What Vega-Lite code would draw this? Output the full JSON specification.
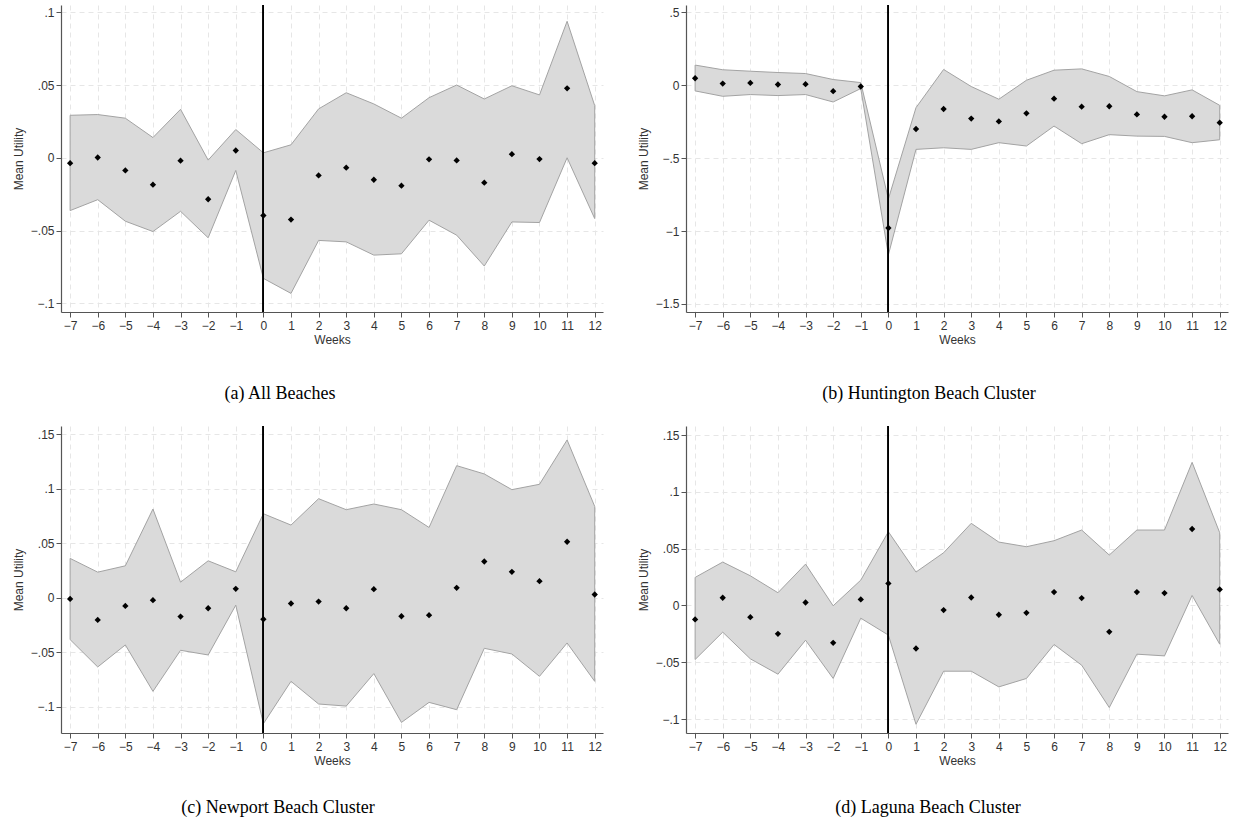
{
  "$schema": "https://vega.github.io/schema/vega-lite/v6.json",
  "background": "white",
  "padding": {"left": 12, "top": 4, "right": 5, "bottom": 5},
  "config": {
    "view": {"stroke": null},
    "font": "Liberation Sans",
    "axis": {
      "labelFont": "Liberation Sans",
      "labelFontSize": 12,
      "labelColor": "#333333",
      "titleFont": "Liberation Sans",
      "titleFontSize": 12,
      "titleFontWeight": "normal",
      "titleColor": "#333333",
      "domainColor": "#555555",
      "domainWidth": 1.2,
      "tickColor": "#555555",
      "tickSize": 5,
      "grid": true,
      "gridColor": "#e6e6e6",
      "gridDash": [5, 4],
      "gridWidth": 1
    },
    "title": {"font": "Liberation Serif", "fontSize": 18, "fontWeight": "normal", "color": "#000000", "orient": "bottom"}
  },
  "datasets": {
    "a": [
      {"w": -7, "m": -0.0037, "lo": -0.0363, "hi": 0.0292},
      {"w": -6, "m": 0.0002, "lo": -0.0288, "hi": 0.0297},
      {"w": -5, "m": -0.0087, "lo": -0.0436, "hi": 0.0272},
      {"w": -4, "m": -0.0185, "lo": -0.0507, "hi": 0.0139},
      {"w": -3, "m": -0.002, "lo": -0.0368, "hi": 0.0333},
      {"w": -2, "m": -0.0285, "lo": -0.055, "hi": -0.0016},
      {"w": -1, "m": 0.005, "lo": -0.0087, "hi": 0.0194},
      {"w": 0, "m": -0.0397, "lo": -0.0829, "hi": 0.0034},
      {"w": 1, "m": -0.0425, "lo": -0.0932, "hi": 0.0089},
      {"w": 2, "m": -0.0121, "lo": -0.0568, "hi": 0.0336},
      {"w": 3, "m": -0.0068, "lo": -0.0578, "hi": 0.0447},
      {"w": 4, "m": -0.0151, "lo": -0.0669, "hi": 0.037},
      {"w": 5, "m": -0.0192, "lo": -0.066, "hi": 0.0272},
      {"w": 6, "m": -0.0011, "lo": -0.0429, "hi": 0.0413},
      {"w": 7, "m": -0.0018, "lo": -0.0532, "hi": 0.05},
      {"w": 8, "m": -0.0171, "lo": -0.0744, "hi": 0.0404},
      {"w": 9, "m": 0.0025, "lo": -0.0441, "hi": 0.0495},
      {"w": 10, "m": -0.0009, "lo": -0.0445, "hi": 0.0432},
      {"w": 11, "m": 0.0477, "lo": 0.0, "hi": 0.0938},
      {"w": 12, "m": -0.0037, "lo": -0.0418, "hi": 0.0358}
    ],
    "b": [
      {"w": -7, "m": 0.048, "lo": -0.039, "hi": 0.138},
      {"w": -6, "m": 0.011, "lo": -0.076, "hi": 0.106},
      {"w": -5, "m": 0.016, "lo": -0.064, "hi": 0.096},
      {"w": -4, "m": 0.005, "lo": -0.071, "hi": 0.087},
      {"w": -3, "m": 0.007, "lo": -0.064, "hi": 0.08},
      {"w": -2, "m": -0.041, "lo": -0.115, "hi": 0.039},
      {"w": -1, "m": -0.009, "lo": -0.023, "hi": 0.018},
      {"w": 0, "m": -0.979, "lo": -1.163, "hi": -0.78},
      {"w": 1, "m": -0.3, "lo": -0.44, "hi": -0.154},
      {"w": 2, "m": -0.163, "lo": -0.429, "hi": 0.108},
      {"w": 3, "m": -0.229, "lo": -0.44, "hi": -0.009},
      {"w": 4, "m": -0.248, "lo": -0.394, "hi": -0.096},
      {"w": 5, "m": -0.193, "lo": -0.417, "hi": 0.034},
      {"w": 6, "m": -0.092, "lo": -0.28, "hi": 0.103},
      {"w": 7, "m": -0.147, "lo": -0.401, "hi": 0.112},
      {"w": 8, "m": -0.144, "lo": -0.339, "hi": 0.06},
      {"w": 9, "m": -0.2, "lo": -0.349, "hi": -0.044},
      {"w": 10, "m": -0.216, "lo": -0.351, "hi": -0.073},
      {"w": 11, "m": -0.213, "lo": -0.394, "hi": -0.032},
      {"w": 12, "m": -0.257, "lo": -0.374, "hi": -0.138}
    ],
    "c": [
      {"w": -7, "m": -0.001, "lo": -0.0383, "hi": 0.0362},
      {"w": -6, "m": -0.0202, "lo": -0.0634, "hi": 0.0236},
      {"w": -5, "m": -0.0074, "lo": -0.0432, "hi": 0.0294},
      {"w": -4, "m": -0.0021, "lo": -0.0858, "hi": 0.0815},
      {"w": -3, "m": -0.0172, "lo": -0.0481, "hi": 0.0144},
      {"w": -2, "m": -0.0095, "lo": -0.0524, "hi": 0.034},
      {"w": -1, "m": 0.0083, "lo": -0.0067, "hi": 0.0239},
      {"w": 0, "m": -0.0196, "lo": -0.1155, "hi": 0.0772},
      {"w": 1, "m": -0.0052, "lo": -0.0766, "hi": 0.0668},
      {"w": 2, "m": -0.0034, "lo": -0.0974, "hi": 0.091},
      {"w": 3, "m": -0.0095, "lo": -0.0993, "hi": 0.0809},
      {"w": 4, "m": 0.008, "lo": -0.0695, "hi": 0.0861},
      {"w": 5, "m": -0.0169, "lo": -0.1143, "hi": 0.0809},
      {"w": 6, "m": -0.0159, "lo": -0.0959, "hi": 0.0646},
      {"w": 7, "m": 0.0092, "lo": -0.1026, "hi": 0.1213},
      {"w": 8, "m": 0.0334, "lo": -0.0463, "hi": 0.1137},
      {"w": 9, "m": 0.0239, "lo": -0.0515, "hi": 0.0993},
      {"w": 10, "m": 0.0153, "lo": -0.072, "hi": 0.1042},
      {"w": 11, "m": 0.0515, "lo": -0.0414, "hi": 0.1449},
      {"w": 12, "m": 0.0031, "lo": -0.0766, "hi": 0.0839}
    ],
    "d": [
      {"w": -7, "m": -0.0123, "lo": -0.0476, "hi": 0.0247},
      {"w": -6, "m": 0.0068, "lo": -0.0235, "hi": 0.0382},
      {"w": -5, "m": -0.0103, "lo": -0.047, "hi": 0.0261},
      {"w": -4, "m": -0.025, "lo": -0.0605, "hi": 0.0112},
      {"w": -3, "m": 0.0026, "lo": -0.0306, "hi": 0.0364},
      {"w": -2, "m": -0.0329, "lo": -0.0643, "hi": -0.0003},
      {"w": -1, "m": 0.0053, "lo": -0.0112, "hi": 0.0223},
      {"w": 0, "m": 0.0194, "lo": -0.0261, "hi": 0.0649},
      {"w": 1, "m": -0.0379, "lo": -0.1046, "hi": 0.0294},
      {"w": 2, "m": -0.0041, "lo": -0.0579, "hi": 0.0464},
      {"w": 3, "m": 0.007, "lo": -0.0579, "hi": 0.0723},
      {"w": 4, "m": -0.0082, "lo": -0.0717, "hi": 0.0558},
      {"w": 5, "m": -0.0065, "lo": -0.0643, "hi": 0.0517},
      {"w": 6, "m": 0.0118, "lo": -0.0344, "hi": 0.057},
      {"w": 7, "m": 0.0065, "lo": -0.0526, "hi": 0.0664},
      {"w": 8, "m": -0.0232, "lo": -0.0899, "hi": 0.0444},
      {"w": 9, "m": 0.0118, "lo": -0.0429, "hi": 0.0664},
      {"w": 10, "m": 0.0109, "lo": -0.0444, "hi": 0.0664},
      {"w": 11, "m": 0.0673, "lo": 0.0088, "hi": 0.126},
      {"w": 12, "m": 0.0141, "lo": -0.0341, "hi": 0.064}
    ]
  },
  "columns": 2,
  "spacing": {"row": 114, "column": 83},
  "bounds": "flush",
  "concat": [
    {
      "width": 542, "height": 307,
      "title": {"text": "(a) All Beaches", "dx": -52, "offset": 40},
      "data": {"name": "a"},
      "encoding": {
        "x": {"field": "w", "type": "quantitative", "scale": {"domain": [-7.33, 12.3], "nice": false, "zero": false},
          "axis": {"values": [-7,-6,-5,-4,-3,-2,-1,0,1,2,3,4,5,6,7,8,9,10,11,12], "title": "Weeks", "titlePadding": 3, "labelPadding": 3}}
      },
      "layer": [
        {"mark": {"type": "area", "color": "#dadada", "stroke": "#a3a3a3", "strokeWidth": 1},
         "encoding": {"y": {"field": "lo", "type": "quantitative", "scale": {"domain": [-0.106, 0.105], "nice": false, "zero": false},
           "axis": {"values": [-0.1,-0.05,0,0.05,0.1], "title": "Mean Utility", "labelExpr": "datum.value == 0 ? '0' : replace(format(datum.value, '~g'), '0.', '.')", "minExtent": 32, "maxExtent": 32, "titlePadding": 4}},
           "y2": {"field": "hi"}}},
        {"mark": {"type": "rule", "color": "#888888", "strokeWidth": 1.5, "strokeDash": [7, 4]}, "encoding": {"y": {"datum": 0}}},
        {"mark": {"type": "rule", "color": "#000000", "strokeWidth": 1}, "encoding": {"x": {"datum": 0}}},
        {"mark": {"type": "point", "shape": "diamond", "filled": true, "color": "#000000", "opacity": 1, "size": 40},
         "encoding": {"y": {"field": "m", "type": "quantitative"}}}
      ]
    },
    {
      "width": 542, "height": 307,
      "title": {"text": "(b) Huntington Beach Cluster", "dx": -28, "offset": 40},
      "data": {"name": "b"},
      "encoding": {
        "x": {"field": "w", "type": "quantitative", "scale": {"domain": [-7.33, 12.3], "nice": false, "zero": false},
          "axis": {"values": [-7,-6,-5,-4,-3,-2,-1,0,1,2,3,4,5,6,7,8,9,10,11,12], "title": "Weeks", "titlePadding": 3, "labelPadding": 3}}
      },
      "layer": [
        {"mark": {"type": "area", "color": "#dadada", "stroke": "#a3a3a3", "strokeWidth": 1},
         "encoding": {"y": {"field": "lo", "type": "quantitative", "scale": {"domain": [-1.555, 0.55], "nice": false, "zero": false},
           "axis": {"values": [-1.5,-1,-0.5,0,0.5], "title": "Mean Utility", "labelExpr": "datum.value == 0 ? '0' : replace(format(datum.value, '~g'), '0.', '.')", "minExtent": 32, "maxExtent": 32, "titlePadding": 4}},
           "y2": {"field": "hi"}}},
        {"mark": {"type": "rule", "color": "#888888", "strokeWidth": 1.5, "strokeDash": [7, 4]}, "encoding": {"y": {"datum": 0}}},
        {"mark": {"type": "rule", "color": "#000000", "strokeWidth": 1}, "encoding": {"x": {"datum": 0}}},
        {"mark": {"type": "point", "shape": "diamond", "filled": true, "color": "#000000", "opacity": 1, "size": 40},
         "encoding": {"y": {"field": "m", "type": "quantitative"}}}
      ]
    },
    {
      "width": 542, "height": 307,
      "title": {"text": "(c) Newport Beach Cluster", "dx": -54, "offset": 33},
      "data": {"name": "c"},
      "encoding": {
        "x": {"field": "w", "type": "quantitative", "scale": {"domain": [-7.33, 12.3], "nice": false, "zero": false},
          "axis": {"values": [-7,-6,-5,-4,-3,-2,-1,0,1,2,3,4,5,6,7,8,9,10,11,12], "title": "Weeks", "titlePadding": 3, "labelPadding": 3}}
      },
      "layer": [
        {"mark": {"type": "area", "color": "#dadada", "stroke": "#a3a3a3", "strokeWidth": 1},
         "encoding": {"y": {"field": "lo", "type": "quantitative", "scale": {"domain": [-0.124, 0.1577], "nice": false, "zero": false},
           "axis": {"values": [-0.1,-0.05,0,0.05,0.1,0.15], "title": "Mean Utility", "labelExpr": "datum.value == 0 ? '0' : replace(format(datum.value, '~g'), '0.', '.')", "minExtent": 32, "maxExtent": 32, "titlePadding": 4}},
           "y2": {"field": "hi"}}},
        {"mark": {"type": "rule", "color": "#888888", "strokeWidth": 1.5, "strokeDash": [7, 4]}, "encoding": {"y": {"datum": 0}}},
        {"mark": {"type": "rule", "color": "#000000", "strokeWidth": 1}, "encoding": {"x": {"datum": 0}}},
        {"mark": {"type": "point", "shape": "diamond", "filled": true, "color": "#000000", "opacity": 1, "size": 40},
         "encoding": {"y": {"field": "m", "type": "quantitative"}}}
      ]
    },
    {
      "width": 542, "height": 307,
      "title": {"text": "(d) Laguna Beach Cluster", "dx": -29, "offset": 33},
      "data": {"name": "d"},
      "encoding": {
        "x": {"field": "w", "type": "quantitative", "scale": {"domain": [-7.33, 12.3], "nice": false, "zero": false},
          "axis": {"values": [-7,-6,-5,-4,-3,-2,-1,0,1,2,3,4,5,6,7,8,9,10,11,12], "title": "Weeks", "titlePadding": 3, "labelPadding": 3}}
      },
      "layer": [
        {"mark": {"type": "area", "color": "#dadada", "stroke": "#a3a3a3", "strokeWidth": 1},
         "encoding": {"y": {"field": "lo", "type": "quantitative", "scale": {"domain": [-0.1123, 0.158], "nice": false, "zero": false},
           "axis": {"values": [-0.1,-0.05,0,0.05,0.1,0.15], "title": "Mean Utility", "labelExpr": "datum.value == 0 ? '0' : replace(format(datum.value, '~g'), '0.', '.')", "minExtent": 32, "maxExtent": 32, "titlePadding": 4}},
           "y2": {"field": "hi"}}},
        {"mark": {"type": "rule", "color": "#888888", "strokeWidth": 1.5, "strokeDash": [7, 4]}, "encoding": {"y": {"datum": 0}}},
        {"mark": {"type": "rule", "color": "#000000", "strokeWidth": 1}, "encoding": {"x": {"datum": 0}}},
        {"mark": {"type": "point", "shape": "diamond", "filled": true, "color": "#000000", "opacity": 1, "size": 40},
         "encoding": {"y": {"field": "m", "type": "quantitative"}}}
      ]
    }
  ]
}
